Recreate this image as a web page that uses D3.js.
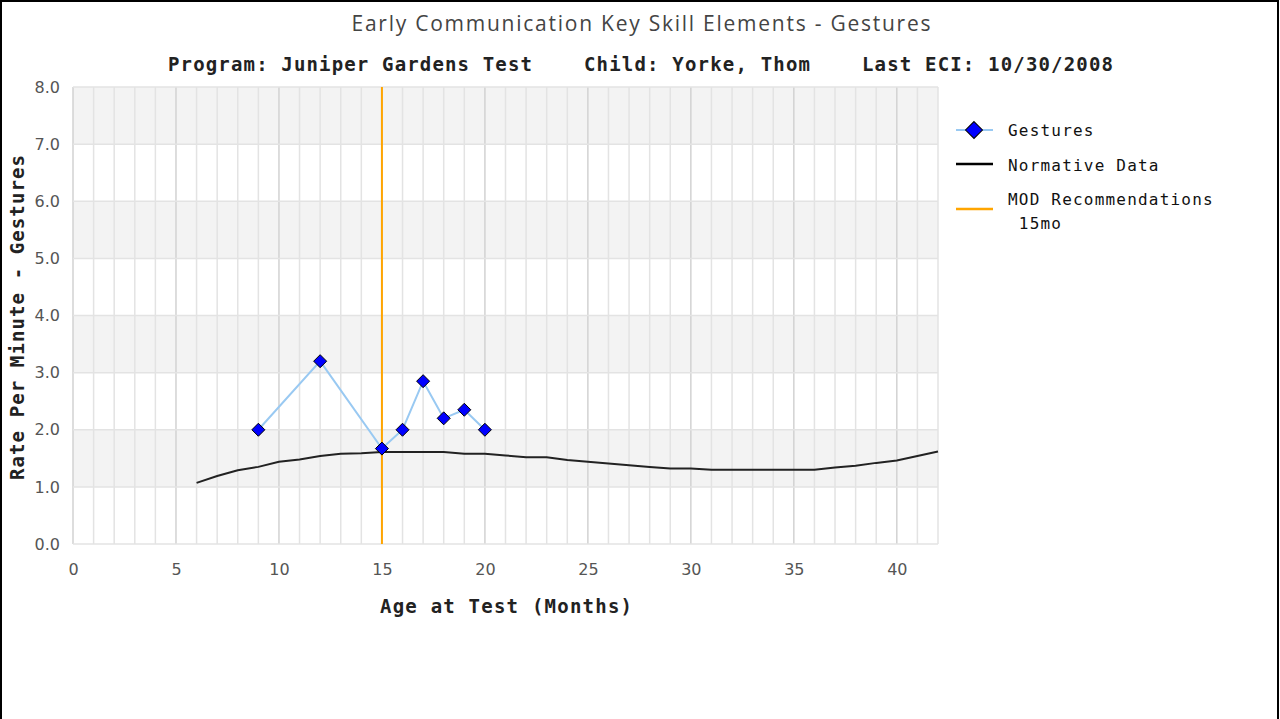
<!DOCTYPE html>
<html>
<head>
<meta charset="utf-8">
<script src="https://cdn.jsdelivr.net/npm/d3@7"></script>
<style>
  html, body { margin: 0; padding: 0; background: #fff; }
  #chart { width: 1280px; height: 719px; }
  .mono { font-family: "DejaVu Sans Mono", monospace; }
</style>
</head>
<body>
<div id="chart"></div>
<script>
// data
const gestureAges = [9, 12, 15, 16, 17, 18, 19, 20]
const gestureRates = [2.0, 3.2, 1.67, 2.0, 2.85, 2.2, 2.35, 2.0]

const normAges = [6, 7, 8, 9, 10, 11, 12, 13, 14, 15, 16, 17, 18, 19, 20, 21, 22, 23, 24,
    25, 26, 27, 28, 29, 30, 31, 32, 33, 34, 35, 36, 37, 38, 39, 40, 41, 42]
const normRates = [1.07, 1.19, 1.29, 1.35, 1.44, 1.48, 1.54, 1.58, 1.59, 1.61, 1.61, 1.61, 1.61, 1.58, 1.58, 1.55, 1.52,
    1.52, 1.47, 1.44, 1.41, 1.38, 1.35, 1.32, 1.32, 1.30, 1.30, 1.30, 1.30, 1.30, 1.30, 1.34, 1.37, 1.42, 1.46, 1.54, 1.62]

const modMonth = 15
const xTicks = [0, 5, 10, 15, 20, 25, 30, 35, 40]
const yTicks = [0, 1, 2, 3, 4, 5, 6, 7, 8]
const legendLabels = ['Gestures', 'Normative Data', 'MOD Recommendations', ' 15mo']

const createChart = () => {
//variables
    const width = 1280
    const height = 719
    const margin = {left: 73, top: 87, right: 342, bottom: 175}
    const x = d3.scaleLinear().domain([0, 42]).range([margin.left, width - margin.right])
    const y = d3.scaleLinear().domain([0, 8]).range([height - margin.bottom, margin.top])

    const svg = d3.select('#chart')
        .append('svg')
        .attr('width', width)
        .attr('height', height)

    // outer frame
    svg.append('rect')
        .attr('x', 1).attr('y', 1)
        .attr('width', width - 3).attr('height', height + 10)
        .attr('fill', 'none')
        .attr('stroke', '#000')
        .attr('stroke-width', 2)

//bands
    svg.append('g')
        .selectAll('rect')
        .data(d3.range(1, 8, 2))
        .enter()
        .append('rect')
        .attr('x', x(0))
        .attr('y', (d) => y(d + 1))
        .attr('width', x(42) - x(0))
        .attr('height', (d) => y(d) - y(d + 1))
        .attr('fill', '#f3f3f3')

//grid
    svg.append('g')
        .selectAll('line')
        .data(d3.range(0, 43))
        .enter()
        .append('line')
        .attr('x1', (d) => x(d)).attr('x2', (d) => x(d))
        .attr('y1', y(0)).attr('y2', y(8))
        .attr('stroke', (d) => d % 5 === 0 ? '#d2d2d2' : '#e3e3e3')
        .attr('stroke-width', 1.5)

    svg.append('g')
        .selectAll('line')
        .data(yTicks)
        .enter()
        .append('line')
        .attr('x1', x(0)).attr('x2', x(42))
        .attr('y1', (d) => y(d)).attr('y2', (d) => y(d))
        .attr('stroke', '#e3e3e3')
        .attr('stroke-width', 1.5)

//axes
    const xAxis = d3.axisBottom(x).tickValues(xTicks).tickSize(0).tickPadding(20)
    const gx = svg.append('g').attr('transform', `translate(0,${y(0)})`).call(xAxis)
    gx.select('.domain').remove()
    gx.selectAll('text')
        .attr('fill', '#555')
        .style('font-family', '"DejaVu Sans", sans-serif')
        .style('font-size', '16px')

    const yAxis = d3.axisLeft(y).tickValues(yTicks).tickSize(0).tickPadding(13).tickFormat(d3.format('.1f'))
    const gy = svg.append('g').attr('transform', `translate(${x(0)},0)`).call(yAxis)
    gy.select('.domain').remove()
    gy.selectAll('text')
        .attr('fill', '#555')
        .style('font-family', '"DejaVu Sans", sans-serif')
        .style('font-size', '16px')

//normative
    const line = d3.line()
        .x((d) => x(d[0]))
        .y((d) => y(d[1]))
    svg.append('path')
        .datum(normAges.map((a, i) => [a, normRates[i]]))
        .attr('d', line)
        .attr('fill', 'none')
        .attr('stroke', '#222')
        .attr('stroke-width', 2)

//mod recommendation
    svg.append('line')
        .attr('x1', x(modMonth)).attr('x2', x(modMonth))
        .attr('y1', y(0)).attr('y2', y(8))
        .attr('stroke', '#ffa500')
        .attr('stroke-width', 2)

//gestures
    const gestures = gestureAges.map((a, i) => [a, gestureRates[i]])
    svg.append('path')
        .datum(gestures)
        .attr('d', line)
        .attr('fill', 'none')
        .attr('stroke', '#99c9f2')
        .attr('stroke-width', 2)

    const diamond = 'M0,-6.5L6.5,0L0,6.5L-6.5,0Z'
    svg.append('g')
        .selectAll('path')
        .data(gestures)
        .enter()
        .append('path')
        .attr('d', diamond)
        .attr('transform', (d) => `translate(${x(d[0])},${y(d[1])})`)
        .attr('fill', '#0000ff')
        .attr('stroke', '#000')
        .attr('stroke-width', 1)

//titles
    svg.append('text')
        .attr('x', 641).attr('y', 31)
        .attr('text-anchor', 'middle')
        .attr('textLength', 579)
        .attr('fill', '#444')
        .style('font-family', '"Open Sans", sans-serif')
        .style('font-size', '21px')
        .text('Early Communication Key Skill Elements - Gestures')

    const header = [
        {text: 'Program: Juniper Gardens Test', x: 168, w: 364},
        {text: 'Child: Yorke, Thom', x: 584, w: 226},
        {text: 'Last ECI: 10/30/2008', x: 862, w: 251}
    ]
    svg.append('g')
        .selectAll('text')
        .data(header)
        .enter()
        .append('text')
        .attr('class', 'mono')
        .attr('x', (d) => d.x).attr('y', 71)
        .attr('textLength', (d) => d.w)
        .attr('fill', '#222')
        .style('font-size', '19px')
        .style('font-weight', 'bold')
        .text((d) => d.text)

    svg.append('text')
        .attr('class', 'mono')
        .attr('x', 380).attr('y', 613)
        .attr('textLength', 252)
        .attr('fill', '#222')
        .style('font-size', '19px')
        .style('font-weight', 'bold')
        .text('Age at Test (Months)')

    svg.append('text')
        .attr('class', 'mono')
        .attr('transform', 'translate(24,480) rotate(-90)')
        .attr('textLength', 325)
        .attr('fill', '#222')
        .style('font-size', '19px')
        .style('font-weight', 'bold')
        .text('Rate Per Minute - Gestures')

//legend
    const lg = svg.append('g')
    lg.append('line')
        .attr('x1', 956).attr('x2', 993).attr('y1', 130).attr('y2', 130)
        .attr('stroke', '#99c9f2').attr('stroke-width', 2)
    lg.append('path')
        .attr('d', diamond)
        .attr('transform', 'translate(974,130) scale(1.3)')
        .attr('fill', '#0000ff').attr('stroke', '#000').attr('stroke-width', 0.8)
    lg.append('line')
        .attr('x1', 956).attr('x2', 993).attr('y1', 164).attr('y2', 164)
        .attr('stroke', '#000').attr('stroke-width', 2.5)
    lg.append('line')
        .attr('x1', 956).attr('x2', 993).attr('y1', 209).attr('y2', 209)
        .attr('stroke', '#ffa500').attr('stroke-width', 2.5)

    const legendPos = [[1008, 136], [1008, 171], [1008, 205], [1008, 229]]
    lg.selectAll('text')
        .data(legendLabels)
        .enter()
        .append('text')
        .attr('class', 'mono')
        .attr('x', (d, i) => legendPos[i][0])
        .attr('y', (d, i) => legendPos[i][1])
        .attr('fill', '#111')
        .style('font-size', '16px')
        .style('letter-spacing', '1.2px')
        .style('white-space', 'pre')
        .text((d) => d)
}

createChart()
</script>
</body>
</html>
